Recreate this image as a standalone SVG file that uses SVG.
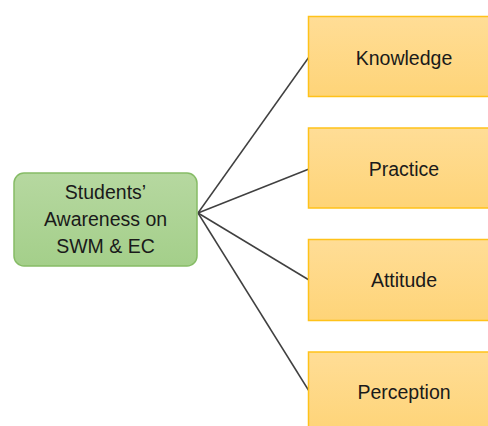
<svg xmlns="http://www.w3.org/2000/svg" width="488" height="426" viewBox="0 0 488 426">
<defs>
<linearGradient id="gy" x1="0" y1="0" x2="0" y2="1"><stop offset="0" stop-color="#ffdd96"/><stop offset="1" stop-color="#fed478"/></linearGradient>
<linearGradient id="gg" x1="0" y1="0" x2="0" y2="1"><stop offset="0" stop-color="#b6d8a0"/><stop offset="1" stop-color="#a4cf8a"/></linearGradient>
</defs>
<style>
.y{fill:url(#gy);stroke:#ffc21a;stroke-width:1.5}
.g{fill:url(#gg);stroke:#86bc66;stroke-width:1.5}
text{font-family:"Liberation Sans",Arial,sans-serif;font-size:19.5px;fill:#1a1a1a;text-anchor:middle}
.c{stroke:#404040;stroke-width:1.5;fill:none}
</style>
<rect width="488" height="426" fill="#ffffff"/>
<g id="connectors">
<line class="c" x1="198" y1="213" x2="309" y2="57"/>
<line class="c" x1="198" y1="213" x2="309" y2="169"/>
<line class="c" x1="198" y1="213" x2="309" y2="280"/>
<line class="c" x1="198" y1="213" x2="309" y2="391"/>
</g>
<g id="center">
<rect class="g" x="14" y="173" width="183" height="93" rx="10"/>
<text x="105.5" y="199">Students’</text>
<text x="105.5" y="226">Awareness on</text>
<text x="105.5" y="253">SWM &amp; EC</text>
</g>
<g id="knowledge">
<rect class="y" x="308.5" y="16.5" width="192" height="80"/>
<text x="404" y="65">Knowledge</text>
</g>
<g id="practice">
<rect class="y" x="308.5" y="128" width="192" height="80"/>
<text x="404" y="176">Practice</text>
</g>
<g id="attitude">
<rect class="y" x="308.5" y="239.5" width="192" height="81"/>
<text x="404" y="287">Attitude</text>
</g>
<g id="perception">
<rect class="y" x="308.5" y="352" width="192" height="80"/>
<text x="404" y="399">Perception</text>
</g>
</svg>
